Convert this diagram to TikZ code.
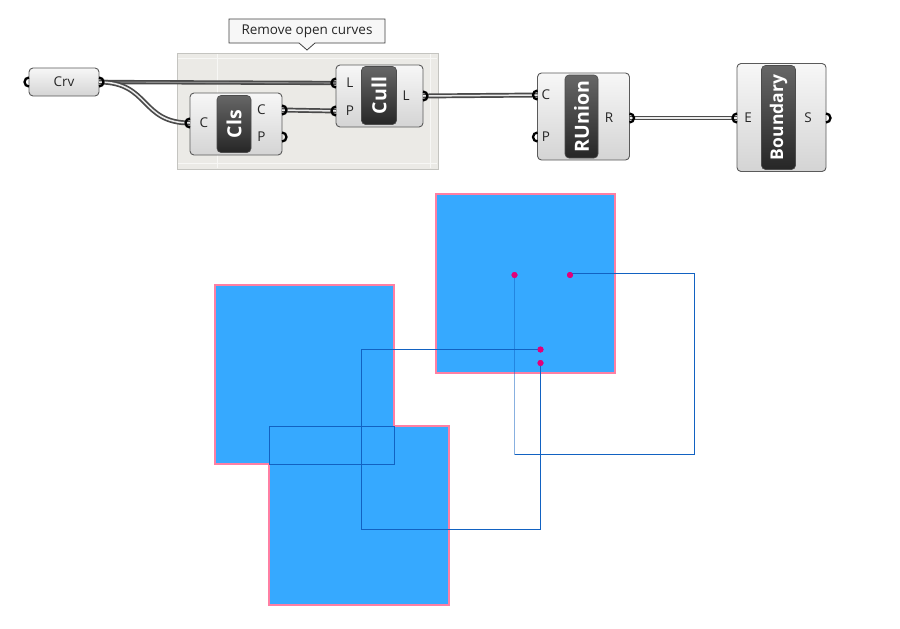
\documentclass[tikz,border=0pt]{standalone}
\usepackage{fontspec}
\setmainfont{Open Sans}
\definecolor{sqfill}{HTML}{36A9FF}
\definecolor{sqedge}{HTML}{FF7FA3}
\definecolor{lnblue}{HTML}{1262C2}
\definecolor{dotc}{HTML}{E2007A}
\definecolor{grpfill}{HTML}{EBEAE6}
\definecolor{grpedge}{HTML}{C4C4C0}
\definecolor{compedge}{HTML}{5A5A5A}
\definecolor{comptop}{HTML}{F7F7F7}
\definecolor{compbot}{HTML}{D4D4D4}
\definecolor{wiredark}{HTML}{4A4A4A}
\begin{document}
\begin{tikzpicture}[x=1pt,y=-1pt,
  comp/.style={draw=compedge, line width=0.9pt, rounded corners=4pt, top color=comptop, bottom color=compbot, inner sep=0pt},
  darkbox/.style={draw=black!70, line width=0.6pt, rounded corners=4pt, top color=black!60, bottom color=black!85, inner sep=0pt},
  nick/.style={text=white, font=\bfseries\fontsize{19.5}{19.5}\selectfont, rotate=90, inner sep=0pt},
  plabel/.style={font=\fontsize{13.5}{15}\selectfont, text=black!85, inner sep=0pt},
  portst/.style={line width=2.3pt, black},
  wire/.style={draw=wiredark, line width=1.7pt, double=white!92!black, double distance=1.5pt},
  wirebold/.style={draw=wiredark, line width=1.6pt, double=black!45, double distance=1.1pt},
  square/.style={fill=sqfill, draw=sqedge, line width=1.4pt},
  conn/.style={draw=lnblue, line width=1.1pt},
  dot/.style={circle, fill=dotc, inner sep=0pt, minimum size=6pt}
]
\useasboundingbox (0,0) rectangle (900,629);
\fill[white] (0,0) rectangle (900,629);

% ---------- group ----------
\node[draw=grpedge, fill=grpfill, line width=1pt, minimum width=261pt, minimum height=116pt, inner sep=0pt] (grp) at (307.5,111) {};
\draw[white!60!grpfill, line width=0.8pt] (217,54) -- (217,168) (430,54) -- (430,168) (178,58) -- (437,58) (178,163) -- (437,163);

% callout
\draw[draw=black!75, fill=white!97!black, line width=0.8pt]
  (229,19) -- (385,19) -- (385,43) -- (315,43) -- (307,50) -- (299,43) -- (229,43) -- cycle;
\node[font=\fontsize{13.5}{15}\selectfont, text=black!85, inner sep=0pt] (callout) at (307,31) {Remove open curves};

% ---------- components ----------
\node[comp, minimum width=70pt, minimum height=28pt] (crv) at (64,82) {};
\node[plabel] (crvlbl) at (64,82) {Crv};

\node[comp, minimum width=92pt, minimum height=62pt] (cls) at (236,124) {};
\node[darkbox, minimum width=34pt, minimum height=57pt] (clsd) at (234,124) {};
\node[nick] (clsn) at (234,124) {Cls};
\node[plabel] (clsc) at (204,123) {C};
\node[plabel] (clsoc) at (261.5,110) {C};
\node[plabel] (clsop) at (261.5,137) {P};

\node[comp, minimum width=87pt, minimum height=62pt] (cull) at (379.5,96) {};
\node[darkbox, minimum width=35pt, minimum height=58pt] (culld) at (379,95.5) {};
\node[nick] (culln) at (379,95.5) {Cull};
\node[plabel] (cullil) at (350,83) {L};
\node[plabel] (cullip) at (350,111) {P};
\node[plabel] (cullol) at (406,96) {L};

\node[comp, minimum width=92pt, minimum height=87pt] (ru) at (583.5,116.5) {};
\node[darkbox, minimum width=33pt, minimum height=83pt] (rud) at (581.5,116.5) {};
\node[nick] (run) at (581.5,116.5) {RUnion};
\node[plabel] (ruic) at (546,95) {C};
\node[plabel] (ruip) at (546,137) {P};
\node[plabel] (ruor) at (609,118) {R};

\node[comp, minimum width=89pt, minimum height=108pt] (bd) at (781.5,117.5) {};
\node[darkbox, minimum width=34pt, minimum height=104pt] (bdd) at (778.5,117.5) {};
\node[nick, font=\bfseries\fontsize{17.5}{17.5}\selectfont] (bdn) at (778.5,117.5) {Boundary};
\node[plabel] (bdie) at (748,118) {E};
\node[plabel] (bdos) at (808,118) {S};

% port coordinates
\coordinate (crv-in) at (29,82);
\coordinate (crv-out) at (99,82);
\coordinate (cls-in) at (190,123);
\coordinate (cls-oc) at (282,110);
\coordinate (cls-op) at (282,137);
\coordinate (cull-il) at (336,83);
\coordinate (cull-ip) at (336,111);
\coordinate (cull-ol) at (423,96);
\coordinate (ru-ic) at (537.5,95);
\coordinate (ru-ip) at (537.5,137);
\coordinate (ru-or) at (629.5,118);
\coordinate (bd-ie) at (737,118);
\coordinate (bd-os) at (826,118);

% ---------- wires ----------
\draw[wirebold] (crv-out) -- (cull-il);
\draw[wire] (crv-out) .. controls (150,82) and (140,123) .. (cls-in);
\draw[wire] (cls-oc) -- (cull-ip);
\draw[wire] (cull-ol) -- (ru-ic);
\draw[wire] (ru-or) -- (bd-ie);

% ports
\foreach \p in {crv-in, cls-in, cull-il, cull-ip, ru-ic, ru-ip, bd-ie}
  \draw[portst] (\p) ++(0,-4.5) arc (90:270:4.5pt);
\foreach \p in {crv-out, cls-oc, cls-op, cull-ol, ru-or, bd-os}
  \draw[portst] (\p) ++(0,-4.5) arc (90:-90:4.5pt);

% ---------- geometry ----------
\draw[square] (436,194) rectangle (615,373);
\draw[square] (215,285) -- (394,285) -- (394,426) -- (449,426) -- (449,605)
  -- (269,605) -- (269,464) -- (215,464) -- cycle;
\draw[conn, line width=0.9pt] (269.5,426.5) rectangle (394,464);

\node[dot] (p1) at (514.5,275) {};
\node[dot] (p2) at (570,275) {};
\node[dot] (p3) at (540.5,349.5) {};
\node[dot] (p4) at (540.5,363) {};

\coordinate (c1) at (694.5,273.5);
\coordinate (c2) at (694.5,454.5);
\coordinate (c3) at (514.5,454.5);
\coordinate (c4) at (361.5,349.5);
\coordinate (c5) at (361.5,529.5);
\coordinate (c6) at (540.5,529.5);

\draw[conn] (p2.center |- c1) -- (c1) -- (c2) -- (c3);
\draw[conn, draw opacity=0.5] (c3) -- (p1.center);
\draw[conn] (p3.center) -- (c4) -- (c5) -- (c6) -- (p4.center);

\node[dot] at (p1) {};
\node[dot] at (p2) {};
\node[dot] at (p3) {};
\node[dot] at (p4) {};
\end{tikzpicture}
\end{document}
